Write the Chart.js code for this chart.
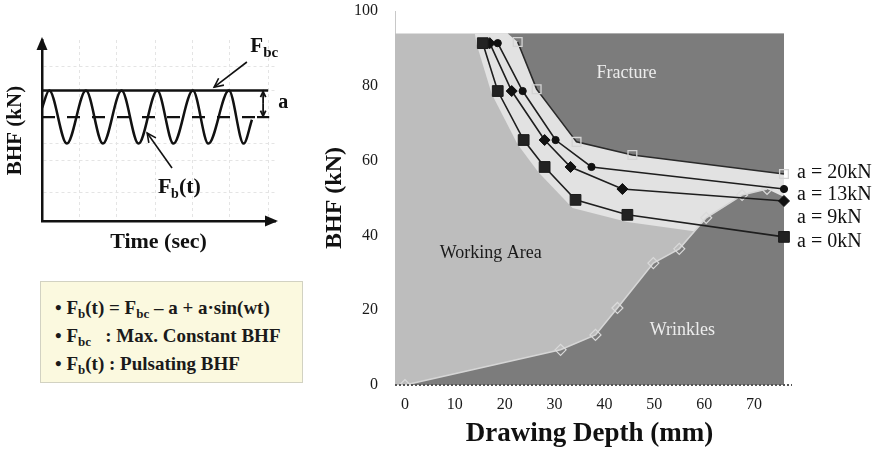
<!DOCTYPE html>
<html>
<head>
<meta charset="utf-8">
<title>BHF working window</title>
<script src="https://cdn.jsdelivr.net/npm/chart.js@4.4.0/dist/chart.umd.min.js"></script>
<style>
  body { margin: 0; background: #fff; font-family: 'Liberation Serif', 'Times New Roman', serif; }
  #wrap { position: relative; width: 880px; height: 450px; overflow: hidden; background: #fff; }
  #left { position: absolute; left: 0; top: 0; }
  #right { position: absolute; left: 300px; top: 0; }
  .box {
    position: absolute; left: 40px; top: 281px; width: 263px; height: 102px;
    box-sizing: border-box; background: #fbf9df; border: 1px solid #d2d2c2;
    padding: 12px 0 0 14px; font-weight: bold; font-size: 19px; line-height: 28px; color: #1a1a1a;
    white-space: nowrap;
  }
  .box sub { font-size: 13px; vertical-align: -4px; line-height: 0; }
</style>
</head>
<body>
<div id="wrap">
  <canvas id="left" width="300" height="265"></canvas>
  <canvas id="right" width="580" height="450"></canvas>
  <div class="box">
    <div>• F<sub>b</sub>(t) = F<sub>bc</sub> – a + a·sin(wt)</div>
    <div>• F<sub>bc</sub>&nbsp;&nbsp;&nbsp;: Max. Constant BHF</div>
    <div>• F<sub>b</sub>(t) : Pulsating BHF</div>
  </div>
</div>
<script>
const SERIF = "'Liberation Serif', 'Times New Roman', serif";

// ---- схема: пульсирующий BHF во времени ----
const sineT = [0, 0.2, 0.69, 1.22, 1.69, 2.21, 2.68, 3.2, 3.65, 4.19, 4.62, 5.19, 5.6, 5.83];
const sineF = [0.34, 1, -1, 1, -1, 1, -1, 1, -1, 1, -1, 1, -1, -0.1];
const fbcT = [0, 6.28];
const fbcF = [1, 1];
const meanT = [0, 5.97];
const meanF = [0, 0];
const gridT = [1.03, 2.08, 3.14, 4.19, 5.22, 6.28];
const gridF = [-2.83, -1.62, -1, 1, 1.9];

// ---- окно процесса: глубина вытяжки / BHF ----
const xTicks = [0, 10, 20, 30, 40, 50, 60, 70];
const yTicks = [0, 20, 40, 60, 80, 100];
const depth20 = [22.6, 26.4, 34.4, 45.6, 76];
const bhf20 = [91.7, 79.1, 65, 61.5, 56.4];
const depth13 = [18.6, 23.6, 30.2, 37.4, 76];
const bhf13 = [91.4, 78.6, 65.5, 58.3, 52.4];
const depth9 = [17, 21.4, 28, 33.2, 43.6, 76];
const bhf9 = [91.4, 78.6, 65.5, 58.3, 52.4, 49.2];
const depth0 = [15.6, 18.6, 23.8, 28, 34.2, 44.6, 76];
const bhf0 = [91.4, 78.6, 65.5, 58.3, 49.5, 45.5, 39.6];
const wrinkleDepth = [0, 31.2, 38.2, 42.6, 49.8, 55, 60.4, 67.6, 72.6];
const wrinkleBhf = [0, 9.4, 13.4, 20.6, 32.6, 36.4, 44.7, 50.8, 52.4];
const bandDepth = [14.0, 14.4, 17.4, 22.6, 26.8, 33.6, 44.6, 76];
const bandBhf = [94, 91, 77.8, 64.3, 56.8, 47.3, 43.6, 37.8];
const seriesNames = ['a = 20kN', 'a = 13kN', 'a = 9kN', 'a = 0kN'];
const depthMin = -2, depthMax = 76, regionTop = 94;

const pts = (xs, ys) => xs.map((v, i) => ({ x: v, y: ys[i] }));

function arrow(ctx, x1, y1, x2, y2, head) {
  ctx.beginPath(); ctx.moveTo(x1, y1); ctx.lineTo(x2, y2); ctx.stroke();
  const a = Math.atan2(y2 - y1, x2 - x1);
  ctx.beginPath();
  ctx.moveTo(x2 - head * Math.cos(a - 0.45), y2 - head * Math.sin(a - 0.45));
  ctx.lineTo(x2, y2);
  ctx.lineTo(x2 - head * Math.cos(a + 0.45), y2 - head * Math.sin(a + 0.45));
  ctx.stroke();
}

// подписи и стрелки на схеме
const leftDeco = {
  id: 'leftDeco',
  afterDatasetsDraw(chart) {
    const { ctx, scales: { x, y }, chartArea: ca } = chart;
    const X = v => x.getPixelForValue(v), Y = v => y.getPixelForValue(v);
    ctx.save();
    ctx.fillStyle = '#111'; ctx.strokeStyle = '#111';
    // наконечники осей
    ctx.beginPath(); ctx.moveTo(ca.left, ca.top - 3); ctx.lineTo(ca.left - 5.5, ca.top + 10); ctx.lineTo(ca.left + 5.5, ca.top + 10); ctx.closePath(); ctx.fill();
    ctx.beginPath(); ctx.moveTo(ca.right + 3, ca.bottom); ctx.lineTo(ca.right - 10, ca.bottom - 5.5); ctx.lineTo(ca.right - 10, ca.bottom + 5.5); ctx.closePath(); ctx.fill();
    // стрелка Fbc
    ctx.lineWidth = 1.6;
    arrow(ctx, X(5.69), Y(2.08), X(4.78), Y(1.13), 10);
    // стрелка Fb(t)
    arrow(ctx, X(3.61), Y(-1.92), X(2.92), Y(-0.6), 10);
    // амплитуда a
    ctx.lineWidth = 1.8;
    arrow(ctx, X(6.14), Y(0.5), X(6.14), Y(1) + 1, 6);
    arrow(ctx, X(6.14), Y(0.5), X(6.14), Y(0) - 1, 6);
    ctx.lineWidth = 2.2;
    ctx.beginPath(); ctx.moveTo(X(5.97), Y(0)); ctx.lineTo(X(6.31), Y(0)); ctx.stroke();
    // тексты
    ctx.textBaseline = 'alphabetic'; ctx.textAlign = 'left';
    ctx.font = 'bold 21px ' + SERIF; ctx.fillText('F', X(5.78), Y(2.45));
    ctx.font = 'bold 15px ' + SERIF; ctx.fillText('bc', X(5.78) + 13, Y(2.45) + 5);
    ctx.font = 'bold 20px ' + SERIF; ctx.fillText('a', X(6.56), Y(0.34));
    const fx = X(3.22), fy = Y(-2.87);
    ctx.font = 'bold 22px ' + SERIF; ctx.fillText('F', fx, fy);
    ctx.font = 'bold 14px ' + SERIF; ctx.fillText('b', fx + 13, fy + 5);
    ctx.font = 'bold 22px ' + SERIF; ctx.fillText('(t)', fx + 21, fy);
    ctx.restore();
  }
};

new Chart(document.getElementById('left'), {
  type: 'line',
  data: {
    datasets: [
      { data: pts(sineT, sineF), borderColor: '#111', borderWidth: 2.5, pointRadius: 0, cubicInterpolationMode: 'monotone' },
      { data: pts(fbcT, fbcF), borderColor: '#111', borderWidth: 2.5, pointRadius: 0 },
      { data: pts(meanT, meanF), borderColor: '#111', borderWidth: 2.2, pointRadius: 0, borderDash: [13, 12] }
    ]
  },
  options: {
    responsive: false,
    animation: false,
    devicePixelRatio: 1,
    layout: { padding: { top: 40, right: 25, left: 0, bottom: 0 } },
    plugins: { legend: { display: false }, tooltip: { enabled: false } },
    scales: {
      x: {
        type: 'linear', min: 0, max: 6.47,
        afterBuildTicks: s => { s.ticks = gridT.map(v => ({ value: v })); },
        afterFit: s => { s.height = 44; },
        grid: { color: '#e4e4e4', lineWidth: 1, drawTicks: false },
        border: { display: true, color: '#111', width: 2.5, dash: [3, 3] },
        ticks: { display: false },
        title: { display: true, text: 'Time (sec)', color: '#111', font: { family: SERIF, size: 22, weight: 'bold' }, padding: { top: 0, bottom: 9 } }
      },
      y: {
        min: -3.92, max: 2.91,
        afterBuildTicks: s => { s.ticks = gridF.map(v => ({ value: v })); },
        afterFit: s => { s.width = 42; },
        grid: { color: '#e4e4e4', lineWidth: 1, drawTicks: false },
        border: { display: true, color: '#111', width: 2.5, dash: [3, 3] },
        ticks: { display: false },
        title: { display: true, text: 'BHF (kN)', color: '#111', font: { family: SERIF, size: 21, weight: 'bold' }, padding: { top: 3, bottom: 0 } }
      }
    }
  },
  plugins: [leftDeco]
});

// надписи областей и подписи кривых
const labelAt = [56.7, 50.8, 44.7, 38.2];
const rightDeco = {
  id: 'rightDeco',
  afterDatasetsDraw(chart) {
    const { ctx, scales: { x, y }, chartArea: ca } = chart;
    ctx.save();
    ctx.strokeStyle = '#555'; ctx.lineWidth = 2; ctx.setLineDash([2, 2]);
    ctx.beginPath(); ctx.moveTo(ca.left, ca.bottom); ctx.lineTo(ca.right + 8, ca.bottom); ctx.stroke();
    ctx.setLineDash([]);
    ctx.textBaseline = 'middle'; ctx.textAlign = 'center';
    ctx.font = '18px ' + SERIF;
    ctx.fillStyle = '#ececec';
    ctx.fillText('Fracture', x.getPixelForValue(44.4), y.getPixelForValue(83.4));
    ctx.fillText('Wrinkles', x.getPixelForValue(55.6), y.getPixelForValue(14.7));
    ctx.fillStyle = '#1a1a1a';
    ctx.fillText('Working Area', x.getPixelForValue(17.2), y.getPixelForValue(35.3));
    ctx.textAlign = 'left'; ctx.font = '20px ' + SERIF; ctx.fillStyle = '#111';
    seriesNames.forEach((n, i) => ctx.fillText(n, ca.right + 13, y.getPixelForValue(labelAt[i])));
    ctx.restore();
  }
};

const region = (data, color, order) => ({
  data, order, fill: 'shape', backgroundColor: color, borderColor: 'transparent',
  borderWidth: 0, pointRadius: 0, tension: 0
});

new Chart(document.getElementById('right'), {
  type: 'line',
  data: {
    datasets: [
      // рабочая область
      region([{ x: depthMin, y: 0 }, { x: depthMin, y: regionTop }, { x: depthMax, y: regionTop }, { x: depthMax, y: 0 }], '#bdbdbd', 14),
      // светлая полоса вокруг кривых
      region([...pts(bandDepth, bandBhf), { x: depthMax, y: regionTop }], '#e2e2e2', 13),
      // разрушение
      region([{ x: 20.6, y: regionTop }, ...pts(depth20, bhf20), { x: depthMax, y: regionTop }], '#7c7c7c', 12),
      // складкообразование
      region([{ x: depthMin, y: 0 }, ...pts(wrinkleDepth, wrinkleBhf), { x: depthMax, y: 50.3 }, { x: depthMax, y: 0 }], '#7c7c7c', 11),
      {
        data: pts(wrinkleDepth, wrinkleBhf), order: 5, borderColor: '#d6d6d6', borderWidth: 1.6,
        pointStyle: 'rectRot', pointRadius: 5.5, pointBorderColor: '#dadada', pointBackgroundColor: 'rgba(0,0,0,0)', pointBorderWidth: 1.2
      },
      {
        data: pts(depth20, bhf20), order: 4, borderColor: '#2a2a2a', borderWidth: 1.6, clip: 10,
        pointStyle: 'rect', pointRadius: 6.2, pointBorderColor: '#d4d4d4', pointBackgroundColor: 'rgba(0,0,0,0)', pointBorderWidth: 1.3
      },
      {
        data: pts(depth13, bhf13), order: 3, borderColor: '#1e1e1e', borderWidth: 1.6, clip: 10,
        pointStyle: 'circle', pointRadius: 3.6, pointBorderColor: '#111', pointBackgroundColor: '#111', pointBorderWidth: 1
      },
      {
        data: pts(depth9, bhf9), order: 2, borderColor: '#1e1e1e', borderWidth: 1.6, clip: 10,
        pointStyle: 'rectRot', pointRadius: 5.5, pointBorderColor: '#111', pointBackgroundColor: '#111', pointBorderWidth: 1
      },
      {
        data: pts(depth0, bhf0), order: 1, borderColor: '#1e1e1e', borderWidth: 1.6, clip: 10,
        pointStyle: 'rect', pointRadius: 7.6, pointBorderColor: '#1a1a1a', pointBackgroundColor: '#222', pointBorderWidth: 1
      }
    ]
  },
  options: {
    responsive: false,
    animation: false,
    devicePixelRatio: 1,
    layout: { padding: { top: 11, right: 96, left: 0, bottom: 0 } },
    plugins: { legend: { display: false }, tooltip: { enabled: false } },
    scales: {
      x: {
        type: 'linear', min: depthMin, max: depthMax,
        afterBuildTicks: s => { s.ticks = xTicks.map(v => ({ value: v })); },
        afterFit: s => { s.height = 65; },
        grid: { display: false, drawTicks: true, tickLength: 10 },
        border: { display: false },
        ticks: { padding: 0, color: '#1a1a1a', font: { family: SERIF, size: 16 } },
        title: { display: true, text: 'Drawing Depth (mm)', color: '#111', font: { family: SERIF, size: 27, weight: 'bold' }, padding: { top: 0, bottom: 0 } }
      },
      y: {
        min: 0, max: 100,
        afterBuildTicks: s => { s.ticks = yTicks.map(v => ({ value: v })); },
        afterFit: s => { s.width = 95; },
        grid: { display: false, drawTicks: true, tickLength: 17 },
        border: { display: true, color: '#c8c8c8', width: 1 },
        ticks: { padding: 0, color: '#1a1a1a', font: { family: SERIF, size: 16 } },
        title: { display: true, text: 'BHF (kN)', color: '#111', font: { family: SERIF, size: 24, weight: 'bold' }, padding: { top: 20, bottom: 0 } }
      }
    }
  },
  plugins: [rightDeco]
});
</script>
</body>
</html>
